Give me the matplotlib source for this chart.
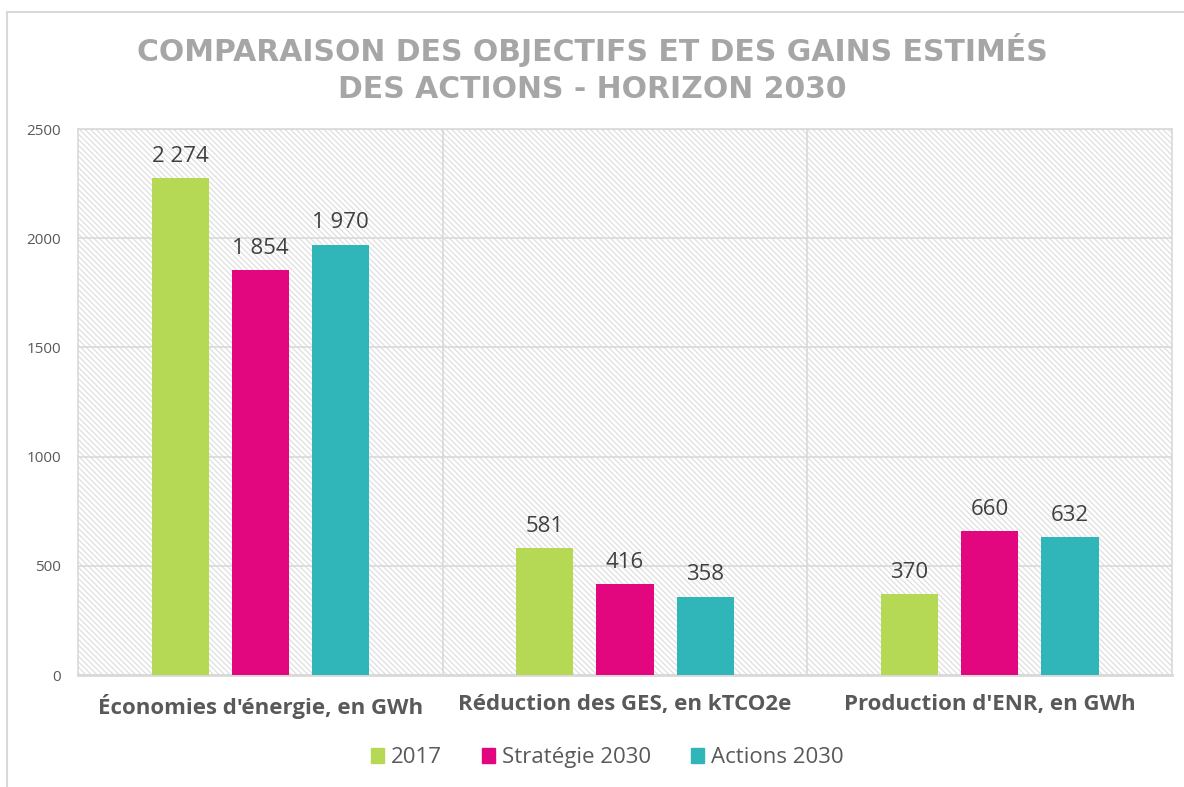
import matplotlib
import matplotlib.pyplot as plt
import numpy as np
from matplotlib.patches import Rectangle
from matplotlib.lines import Line2D
matplotlib.use('agg')

categories = ["Économies d'énergie, en GWh", "Réduction des GES, en kTCO2e", "Production d'ENR, en GWh"]
series_names = ["2017", "Stratégie 2030", "Actions 2030"]
values_2017 = [2274, 581, 370]
values_strat = [1854, 416, 660]
values_actions = [1970, 358, 632]
colors = ["#b5d955", "#e3077f", "#30b5b9"]
yticks = [0, 500, 1000, 1500, 2000, 2500]

plt.rcParams['font.family'] = ['Open Sans', 'DejaVu Sans']
plt.rcParams['hatch.linewidth'] = 0.8
plt.rcParams['hatch.color'] = '#dcdcdc'

fig = plt.figure(figsize=(11.84, 7.87), dpi=100)
ax = fig.add_axes([0.0659, 0.1423, 0.9241, 0.6937])

# hatched plot area background
ax.add_patch(Rectangle((0, 0), 1, 1, transform=ax.transAxes, facecolor='white',
                       hatch='\\\\\\\\\\\\', edgecolor='#dcdcdc', linewidth=0, zorder=0))

x = np.arange(len(categories))
width = 0.157
step = 0.22
for i, (vals, name, col) in enumerate(zip([values_2017, values_strat, values_actions], series_names, colors)):
    pos = x + (i - 1) * step
    bars = ax.bar(pos, vals, width, color=col, label=name, zorder=3)
    for b, v in zip(bars, vals):
        lbl = f"{v:,}".replace(",", " ")
        ax.text(b.get_x() + b.get_width() / 2, v + 52, lbl, ha='center', va='bottom',
                fontsize=16, color='#404040', zorder=4)

ax.set_xlim(-0.5, 2.5)
ax.set_ylim(0, 2500)
ax.set_yticks(yticks)
ax.set_yticklabels([str(t) for t in yticks], fontsize=11, color='#595959')
ax.yaxis.grid(True, color='#d9d9d9', linewidth=1.2, zorder=1)
for b in [0.5, 1.5]:
    ax.axvline(b, color='#d9d9d9', linewidth=1.2, zorder=1)
ax.set_axisbelow(True)
ax.set_xticks(x)
ax.set_xticklabels(categories, fontsize=16, fontweight='bold', color='#595959')
ax.tick_params(axis='both', length=0)
ax.tick_params(axis='x', pad=14)
ax.tick_params(axis='y', pad=12)
for s in ax.spines.values():
    s.set_color('#d9d9d9')
    s.set_linewidth(1.2)
ax.spines['bottom'].set_linewidth(2)

fig.text(0.5, 0.913, "COMPARAISON DES OBJECTIFS ET DES GAINS ESTIMÉS\nDES ACTIONS - HORIZON 2030",
         ha='center', va='center', fontsize=21.5, fontweight='bold', color='#a6a6a6',
         linespacing=1.35, family=['DejaVu Sans'])

handles = [Rectangle((0, 0), 1, 1, color=c) for c in colors]
fig.legend(handles, series_names, loc='center', bbox_to_anchor=(0.513, 0.037), ncol=3,
           frameon=False, fontsize=16, labelcolor='#595959', handlelength=0.6,
           handleheight=0.6, handletextpad=0.3, columnspacing=1.8)

# chart frame lines (left and top)
fig.add_artist(Line2D([7 / 1184, 7 / 1184], [0, 1 - 12 / 787], color='#d9d9d9', linewidth=1.5))
fig.add_artist(Line2D([7 / 1184, 1], [1 - 12 / 787, 1 - 12 / 787], color='#d9d9d9', linewidth=1.5))

plt.savefig('out.png', dpi=100)
plt.close()
